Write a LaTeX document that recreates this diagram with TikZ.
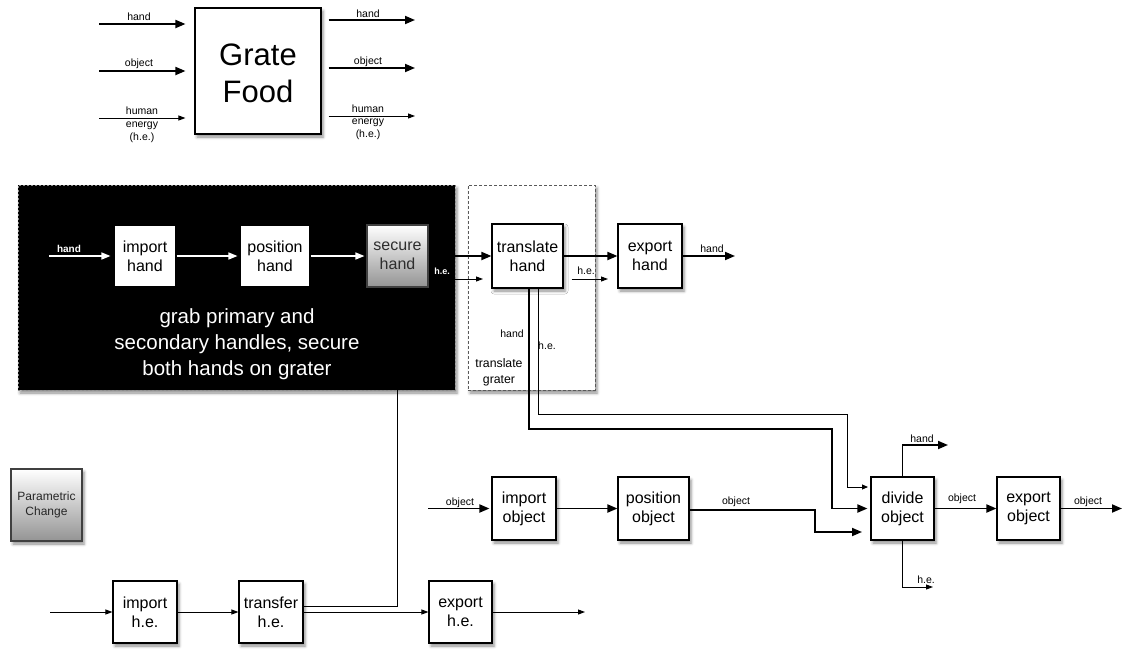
\documentclass[tikz,border=0pt]{standalone}
\usepackage{fontspec}
\setmainfont{Liberation Sans}
\usetikzlibrary{arrows.meta,shadows.blur}
\newcommand\boxfont{\fontsize{16}{19}\selectfont}
\newcommand\lblfont{\fontsize{10.5}{12.5}\selectfont}
\begin{document}
\begin{tikzpicture}[x=1pt,y=-1pt,
  softshadow/.style={blur shadow={shadow xshift=2pt,shadow yshift=-3pt,shadow blur radius=3pt,shadow opacity=45}},
  fnbox/.style={draw=black,line width=1.1pt,fill=white,inner sep=0pt,align=center,font=\boxfont,softshadow},
  groupblack/.style={draw=black!45,dash pattern=on 2pt off 2pt,line width=0.8pt,fill=black,inner sep=0pt,softshadow},
  groupwhite/.style={draw=black!65,dash pattern=on 3pt off 2pt,line width=1pt,fill=white,inner sep=0pt,softshadow},
  shadedbox/.style={draw=black!75,line width=1.1pt,top color=white,bottom color=black!42,inner sep=0pt,align=center,softshadow},
  flow/.style={line width=1.8pt,-{Triangle[length=10pt,width=8pt]}},
  wflow/.style={flow,draw=white,line width=1.4pt,-{Triangle[length=9pt,width=7pt]}},
  heflow/.style={line width=0.9pt,-{Triangle[length=7pt,width=5pt]}},
  heline/.style={line width=0.9pt},
  lbl/.style={font=\lblfont,inner sep=0pt,align=center},
]
\useasboundingbox (0,0) rectangle (1127,656);

% ---------- Grate Food black box with its inputs and outputs ----------
\node[fnbox,minimum width=126,minimum height=126] (grate) at (258,71) {};
\node[font=\fontsize{31}{37}\selectfont,align=center,inner sep=0pt] (gratetxt) at (258,73.5) {Grate\\Food};

\coordinate (gin1) at (99,24);
\coordinate (gin2) at (99,71);
\coordinate (gin3) at (99,118);
\draw[flow,shorten >=9pt] (gin1) -- (gin1 -| grate.west);
\draw[flow,shorten >=9pt] (gin2) -- (gin2 -| grate.west);
\draw[heflow,shorten >=9pt] (gin3) -- (gin3 -| grate.west);
\node[lbl] (lgin1) at (139,17) {hand};
\node[lbl] (lgin2) at (139,64) {object};
\node[lbl,font=\fontsize{10.5}{13}\selectfont] (lgin3) at (142,125) {human\\energy\\(h.e.)};

\coordinate (gout1) at (415,20);
\coordinate (gout2) at (415,68);
\coordinate (gout3) at (415,116);
\draw[flow,shorten <=7pt] (grate.east |- gout1) -- (gout1);
\draw[flow,shorten <=7pt] (grate.east |- gout2) -- (gout2);
\draw[heflow,shorten <=7pt] (grate.east |- gout3) -- (gout3);
\node[lbl] (lgout1) at (368,14) {hand};
\node[lbl] (lgout2) at (368,62) {object};
\node[lbl] (lgout3) at (368,122) {human\\energy\\(h.e.)};

% ---------- group frames ----------
\node[groupblack,minimum width=437,minimum height=205] (grab) at (236.5,287.5) {};
\node[groupwhite,minimum width=127,minimum height=205] (tg) at (531.5,287.5) {};
\node[font=\fontsize{20.5}{26}\selectfont,text=white,align=center,inner sep=0pt] (grabtxt) at (237,344)
  {grab primary and\\secondary handles, secure\\both hands on grater};
\node[font=\fontsize{12.3}{16}\selectfont,align=center,inner sep=0pt] (tgtxt) at (499,372) {translate\\grater};

% ---------- function blocks ----------
\node[fnbox,minimum width=62,minimum height=62] (ihand) at (145,256) {import\\hand};
\node[fnbox,minimum width=70,minimum height=62] (phand) at (275,256) {position\\hand};
\node[shadedbox,minimum width=61,minimum height=62,font=\boxfont,text=black!82] (shand) at (397.5,256) {secure\\hand};
\node[fnbox,minimum width=71,minimum height=64] (thand) at (527.5,256) {translate\\hand};
\node[fnbox,minimum width=64,minimum height=64] (ehand) at (650,256) {export\\hand};

\node[fnbox,minimum width=64,minimum height=63] (iobj) at (524,508.5) {import\\object};
\node[fnbox,minimum width=71,minimum height=63] (pobj) at (653.5,508.5) {position\\object};
\node[fnbox,minimum width=63,minimum height=63] (dobj) at (902.5,508.5) {divide\\object};
\node[fnbox,minimum width=63,minimum height=63] (eobj) at (1028.5,508.5) {export\\object};

\node[shadedbox,minimum width=71,minimum height=72,font=\fontsize{12}{15}\selectfont,text=black!85] (param) at (46.5,505) {Parametric\\Change};

\node[fnbox,minimum width=64,minimum height=62] (ihe) at (145,612) {import\\h.e.};
\node[fnbox,minimum width=64,minimum height=62] (the) at (271,612) {transfer\\h.e.};
\node[fnbox,minimum width=63,minimum height=62] (ehe) at (460.5,612) {export\\h.e.};

% ---------- hand flow ----------
\coordinate (hin) at (49,256);
\draw[wflow,shorten >=3pt] (hin) -- (ihand.west);
\draw[wflow,shorten >=2pt] (ihand) -- (phand);
\draw[wflow,shorten >=2pt] (phand) -- (shand);
\node[lbl,text=white,font=\fontsize{10}{11}\selectfont\bfseries] (lhin) at (69,249) {hand};
\draw[flow] (shand) -- (thand);
\coordinate (he1) at (483,279);
\draw[heflow] (shand.east |- he1) -- (he1);
\node[lbl,text=white,font=\fontsize{9}{11}\selectfont\bfseries] (lhe1) at (442,271) {h.e.};
\draw[flow] (thand) -- (ehand);
\coordinate (hout) at (735,256);
\draw[flow] (ehand) -- (hout);
\node[lbl] (lhout) at (712,249) {hand};
\coordinate (he2) at (608,279);
\draw[heflow,shorten <=8pt] (thand.east |- he2) -- (he2);
\node[lbl] (lhe2) at (586,271) {h.e.};

% ---------- hand and h.e. down to divide object ----------
\coordinate (dinhe) at (868,487);
\draw[flow] ([xshift=1.5pt]thand.south) |- (832,429) |- ([xshift=-3pt]dobj.west);
\draw[heline,-{Triangle[length=6pt,width=5pt]}] ([xshift=10.5pt]thand.south) |- (847,414) |- (dinhe);
\node[lbl] (lvh) at (512,334) {hand};
\node[lbl] (lvhe) at (547,346) {h.e.};

% ---------- object flow ----------
\coordinate (oin) at (428,508.5);
\draw[flow,shorten >=2pt] (oin) -- (iobj.west);
\node[lbl] (loin) at (460,503) {object};
\draw[flow] (iobj) -- (pobj);
\coordinate (dinob) at (862,532);
\draw[flow] ([yshift=-1.5pt]pobj.east) -| (815,532) -- (dinob);
\node[lbl] (lpo) at (736,502) {object};
\draw[flow] (dobj) -- (eobj);
\node[lbl] (ldo) at (962,499) {object};
\coordinate (oout) at (1122,508.5);
\draw[flow] (eobj) -- (oout);
\node[lbl] (loout) at (1088,502) {object};
\coordinate (dhout) at (948,445);
\draw[flow] (dobj.north) |- (dhout);
\node[lbl] (ldh) at (922,439) {hand};
\coordinate (dheout) at (933,587);
\draw[heflow] (dobj.south) |- (dheout);
\node[lbl] (ldhe) at (926,580) {h.e.};

% ---------- human energy flow ----------
\coordinate (hein) at (50,612);
\draw[heflow] (hein) -- (ihe);
\draw[heflow] (ihe) -- (the);
\draw[heflow] (the) -- (ehe);
\coordinate (heout) at (585,612);
\draw[heflow] (ehe) -- (heout);
\coordinate (tap) at (397,390);
\draw[heline] ([yshift=6pt]the.east) -| (grab.south -| tap);
\end{tikzpicture}
\end{document}
